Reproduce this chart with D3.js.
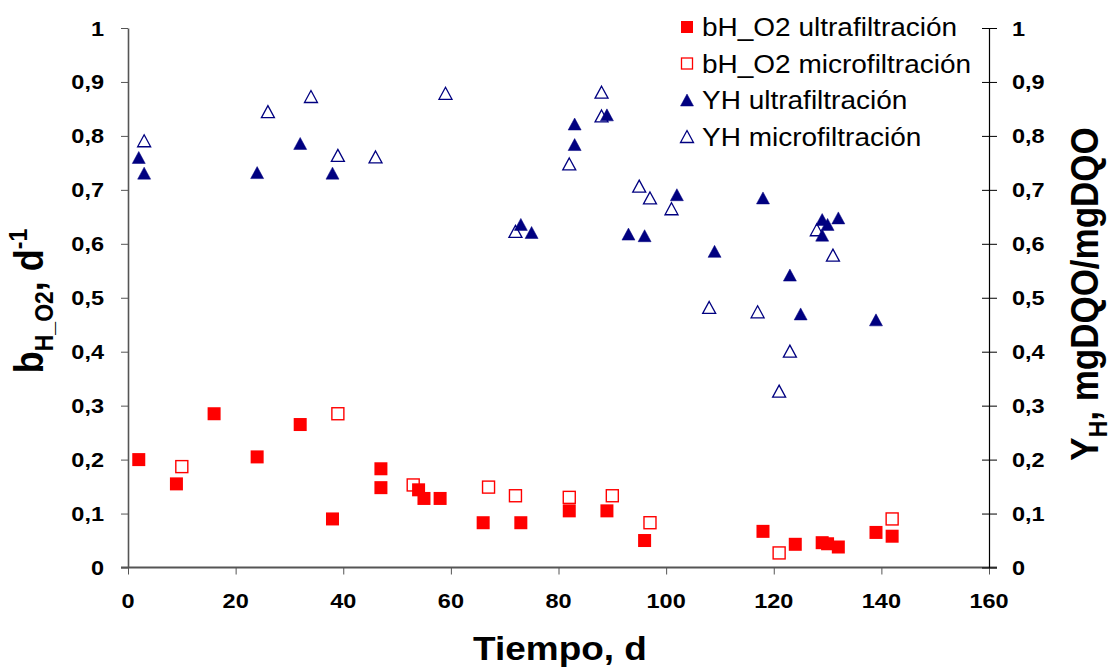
<!DOCTYPE html>
<html>
<head>
<meta charset="utf-8">
<script src="https://cdn.jsdelivr.net/npm/d3@7/dist/d3.min.js"></script>
<style>
  body { margin: 0; background: #fff; }
  svg { display: block; font-family: "Liberation Sans", Arial, sans-serif; }
</style>
</head>
<body>
<svg width="1113" height="668"></svg>
<script>
// datos
const bUltraDays = [2, 9, 16, 24, 32, 38, 47, 47, 54, 55, 58, 66, 73, 82, 89, 96, 118, 124, 129, 130, 132, 139, 142];
const bUltraValues = [0.200, 0.155, 0.285, 0.205, 0.265, 0.090, 0.183, 0.148, 0.144, 0.128, 0.128, 0.083, 0.083, 0.105, 0.105, 0.050, 0.067, 0.043, 0.046, 0.044, 0.038, 0.065, 0.058];

const bMicroDays = [10, 39, 53, 67, 72, 82, 90, 97, 121, 142];
const bMicroValues = [0.187, 0.285, 0.153, 0.149, 0.133, 0.130, 0.133, 0.083, 0.027, 0.090];

const yhUltraDays = [2, 3, 24, 32, 38, 73, 75, 83, 83, 89, 93, 96, 102, 109, 118, 123, 125, 129, 129, 130, 132, 139];
const yhUltraValues = [0.760, 0.731, 0.732, 0.786, 0.731, 0.636, 0.621, 0.822, 0.784, 0.839, 0.618, 0.615, 0.691, 0.586, 0.685, 0.542, 0.470, 0.645, 0.616, 0.636, 0.648, 0.459];

const yhMicroDays = [3, 26, 34, 39, 46, 59, 72, 82, 88, 88, 95, 97, 101, 108, 117, 121, 123, 128, 131];
const yhMicroValues = [0.791, 0.845, 0.873, 0.764, 0.761, 0.879, 0.623, 0.748, 0.881, 0.837, 0.707, 0.685, 0.665, 0.482, 0.474, 0.327, 0.401, 0.626, 0.579];

const xTicks = [0, 20, 40, 60, 80, 100, 120, 140, 160];
const yTicks = [0, 0.1, 0.2, 0.3, 0.4, 0.5, 0.6, 0.7, 0.8, 0.9, 1];

const legendLabels = ['bH_O2 ultrafiltración', 'bH_O2 microfiltración', 'YH ultrafiltración', 'YH microfiltración'];

const RED = '#ff0000';
const NAVY = '#000080';
const STRETCH = 1.12; // el texto original está un poco ensanchado

const svg = d3.select('svg');

const x = d3.scaleLinear().domain([0, 160]).range([128, 989]);
const y = d3.scaleLinear().domain([0, 1]).range([567.5, 28]);
const y2 = d3.scaleLinear().domain([0, 1]).range([567.5, 28]);

const fmt = (v) => (v === 0 || v === 1 ? String(v) : v.toFixed(1).replace('.', ','));

// texto con escala horizontal
function addText(parent, tx, ty, str, size, weight, anchor, rotate) {
  let tr = `translate(${tx},${ty}) scale(${STRETCH},1)`;
  if (rotate) tr += ` rotate(${rotate})`;
  return parent
    .append('text')
    .attr('transform', tr)
    .attr('font-size', size)
    .attr('font-weight', weight)
    .attr('text-anchor', anchor)
    .attr('fill', '#000')
    .text(str);
}

// ejes
const xAxis = svg
  .append('g')
  .attr('transform', `translate(0,${y(0)})`)
  .call(d3.axisBottom(x).tickValues(xTicks).tickSize(7).tickSizeOuter(0).tickFormat(''));
xAxis.select('.domain').attr('stroke', '#555').attr('stroke-width', 2).attr('d', `M121,0H997`);
xAxis.selectAll('.tick line').attr('stroke', '#555');

const yAxis = svg
  .append('g')
  .attr('transform', `translate(${x(0)},0)`)
  .call(d3.axisLeft(y).tickValues(yTicks).tickSize(7).tickSizeOuter(0).tickFormat(''));
yAxis.select('.domain').attr('stroke', '#555').attr('stroke-width', 1.6);
yAxis.selectAll('.tick line').attr('stroke', '#555');

const y2Axis = svg
  .append('g')
  .attr('transform', `translate(${x(160)},0)`)
  .call(d3.axisRight(y2).tickValues(yTicks).tickSize(8).tickSizeOuter(0).tickFormat(''));
y2Axis.select('.domain').attr('stroke', '#000').attr('stroke-width', 1.2);
y2Axis.selectAll('.tick line').attr('stroke', '#000').attr('x1', -7);

// etiquetas de los ejes
const labels = svg.append('g');
xTicks.forEach((t) => addText(labels, x(t), 608, String(t), 21, 'bold', 'middle'));
yTicks.forEach((t) => {
  addText(labels, 104, y(t) + 7.5, fmt(t), 21, 'bold', 'end');
  addText(labels, 1012, y2(t) + 7.5, fmt(t), 21, 'bold', 'start');
});

addText(labels, 560, 660, 'Tiempo, d', 33, 'bold', 'middle');

// título eje izquierdo
const leftTitle = addText(labels, 43, 301, '', 36, 'bold', 'middle', -90);
leftTitle.append('tspan').text('b');
leftTitle.append('tspan').attr('font-size', 23).attr('dy', 9).text('H_O2');
leftTitle.append('tspan').attr('dy', -9).text(', d');
leftTitle.append('tspan').attr('font-size', 23).attr('dy', -14).text('-1');

// título eje derecho
const rightTitle = addText(labels, 1098, 294, '', 35, 'bold', 'middle', -90);
rightTitle.append('tspan').text('Y');
rightTitle.append('tspan').attr('font-size', 23).attr('dy', 8).text('H');
rightTitle.append('tspan').attr('dy', -8).text(', mgDQO/mgDQO');

// marcadores
const triPath = 'M0,-6L6.5,6L-6.5,6Z';

function squares(days, values, filled) {
  svg
    .append('g')
    .selectAll('rect')
    .data(days.map((d, i) => [d, values[i]]))
    .enter()
    .append('rect')
    .attr('x', (d) => x(d[0]) - (filled ? 6.5 : 6))
    .attr('y', (d) => y(d[1]) - (filled ? 6.5 : 6))
    .attr('width', filled ? 13 : 12)
    .attr('height', filled ? 13 : 12)
    .attr('fill', filled ? RED : '#fff')
    .attr('stroke', filled ? 'none' : RED)
    .attr('stroke-width', 1.4);
}

function triangles(days, values, filled) {
  svg
    .append('g')
    .selectAll('path')
    .data(days.map((d, i) => [d, values[i]]))
    .enter()
    .append('path')
    .attr('transform', (d) => `translate(${x(d[0])},${y2(d[1])})`)
    .attr('d', triPath)
    .attr('fill', filled ? NAVY : 'none')
    .attr('stroke', NAVY)
    .attr('stroke-width', filled ? 0.5 : 1.3);
}

squares(bMicroDays, bMicroValues, false);
squares(bUltraDays, bUltraValues, true);
triangles(yhMicroDays, yhMicroValues, false);
triangles(yhUltraDays, yhUltraValues, true);

// leyenda
const legend = svg.append('g');
legendLabels.forEach((name, i) => {
  const cy = 27 + i * 36.5;
  if (i === 0) {
    legend.append('rect').attr('x', 681).attr('y', cy - 6).attr('width', 12).attr('height', 12).attr('fill', RED);
  } else if (i === 1) {
    legend.append('rect').attr('x', 681.5).attr('y', cy - 5.5).attr('width', 11).attr('height', 11)
      .attr('fill', '#fff').attr('stroke', RED).attr('stroke-width', 1.3);
  } else {
    legend.append('path').attr('transform', `translate(687,${cy})`).attr('d', triPath)
      .attr('fill', i === 2 ? NAVY : 'none').attr('stroke', NAVY).attr('stroke-width', i === 2 ? 0.5 : 1.3);
  }
  addText(legend, 702, cy + 9, name, 25, 'normal', 'start');
});
</script>
</body>
</html>
